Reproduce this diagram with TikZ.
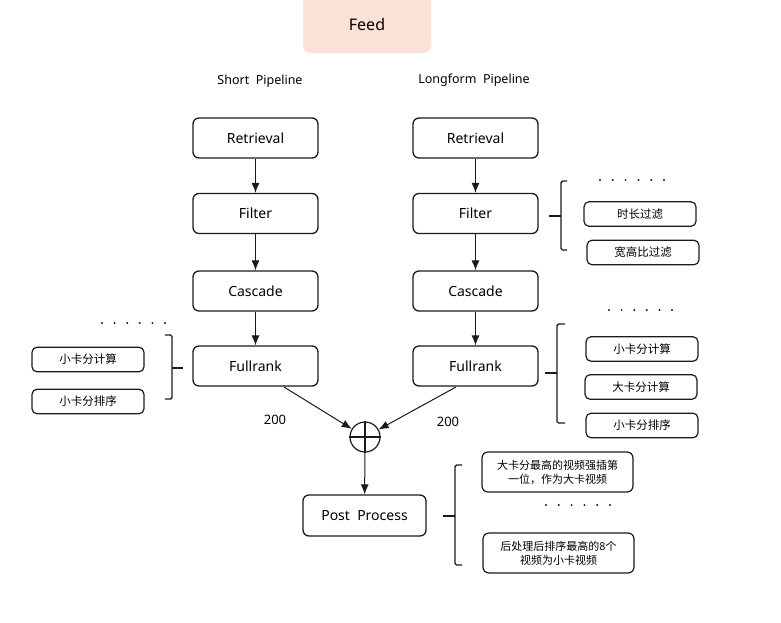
\documentclass[tikz,border=0pt]{standalone}
\usepackage{fontspec}
\setmainfont{Noto Sans}
\newfontfamily\cjk{Noto Sans CJK SC}
\usetikzlibrary{arrows.meta}
\definecolor{feedfill}{HTML}{FAE2D6}
\definecolor{ink}{HTML}{1A1A1A}
\tikzset{
  stage/.style={draw=ink, line width=1.3pt, rounded corners=6pt, minimum width=125pt, minimum height=40pt, inner sep=0pt, font=\fontsize{14}{16}\selectfont},
  subbox/.style={draw=ink, line width=1.2pt, rounded corners=5pt, minimum width=112pt, minimum height=24.5pt, inner sep=0pt, font=\cjk\fontsize{11.5}{13}\selectfont},
  bigbox/.style={draw=ink, line width=1.2pt, rounded corners=6pt, minimum width=151pt, minimum height=40pt, inner sep=0pt, align=center, font=\cjk\fontsize{11}{14}\selectfont},
  flow/.style={line width=1pt, draw=ink, -{Latex[length=10pt,width=8pt]}},
  brace/.style={line width=1.4pt, draw=ink, rounded corners=1.5pt},
  dot/.style={fill=ink},
  hdr/.style={font=\fontsize{12.5}{14}\selectfont},
}
\begin{document}
\begin{tikzpicture}[x=1pt,y=-1pt]
\useasboundingbox (0,0) rectangle (781,622);
% Feed
\fill[feedfill, rounded corners=8pt] (303,-10) rectangle (431,53);
\node[font=\fontsize{16}{18}\selectfont] (feed) at (367,24) {Feed};
% headers
\node[hdr] (hs) at (260,81) {Short\ \ Pipeline};
\node[hdr] (hl) at (474,80) {Longform\ \ Pipeline};
% left column
\node[stage] (r1) at (255.5,138) {Retrieval};
\node[stage] (f1) at (255.5,213.5) {Filter};
\node[stage] (c1) at (255.5,291) {Cascade};
\node[stage] (k1) at (255.5,366) {Fullrank};
% right column
\node[stage] (r2) at (475.5,138) {Retrieval};
\node[stage] (f2) at (475.5,213.5) {Filter};
\node[stage] (c2) at (475.5,291) {Cascade};
\node[stage] (k2) at (475.5,366) {Fullrank};
\draw[flow] (r1) -- (f1);
\draw[flow] (f1) -- (c1);
\draw[flow] (c1) -- (k1);
\draw[flow] (r2) -- (f2);
\draw[flow] (f2) -- (c2);
\draw[flow] (c2) -- (k2);
% oplus
\node[circle, draw=ink, line width=1.2pt, minimum size=30pt, inner sep=0pt] (sum) at (365,437) {};
\draw[line width=1.2pt, draw=ink] (sum.north) -- (sum.south) (sum.west) -- (sum.east);
\coordinate (k1o) at (284,387);
\coordinate (k2o) at (456,387);
\draw[flow] (k1o) -- (sum);
\draw[flow] (k2o) -- (sum);
\node[font=\fontsize{13}{15}\selectfont] (n1) at (275,420) {200};
\node[font=\fontsize{13}{15}\selectfont] (n2) at (448,422) {200};
% post process
\node[stage, minimum width=123pt, minimum height=41pt] (pp) at (364.5,515.5) {Post\ \ Process};
\draw[flow] (sum) -- (pp);
% left fullrank brace
\draw[brace] (165,335) -- (172,335) -- (172,399) -- (165,399);
\draw[brace] (172,368) -- (183,368);
\foreach \i in {0,...,5} \fill[dot] (102+12.6*\i,323) circle (1.1pt);
\node[subbox] (l1) at (88,359.5) {小卡分计算};
\node[subbox] (l2) at (88,401.5) {小卡分排序};
% right filter brace
\draw[brace] (567,181) -- (561,181) -- (561,250) -- (567,250);
\draw[brace] (549,216) -- (561,216);
\foreach \i in {0,...,5} \fill[dot] (600+12.8*\i,180) circle (1.1pt);
\node[subbox] (fs1) at (640,214) {时长过滤};
\node[subbox] (fs2) at (643,252.5) {宽高比过滤};
% right fullrank brace
\draw[brace] (565,324) -- (557,324) -- (557,423) -- (565,423);
\draw[brace] (545,373) -- (557,373);
\foreach \i in {0,...,5} \fill[dot] (609+12.6*\i,310) circle (1.1pt);
\node[subbox] (ks1) at (642,349) {小卡分计算};
\node[subbox] (ks2) at (641,387) {大卡分计算};
\node[subbox] (ks3) at (642,425.5) {小卡分排序};
% post brace
\draw[brace] (462,465) -- (455,465) -- (455,565) -- (462,565);
\draw[brace] (443,516) -- (455,516);
\node[bigbox] (pb1) at (557.5,472) {大卡分最高的视频强插第\\一位，作为大卡视频};
\foreach \i in {0,...,5} \fill[dot] (546+12.8*\i,505) circle (1.1pt);
\node[bigbox] (pb2) at (558.5,553) {后处理后排序最高的8个\\视频为小卡视频};
\end{tikzpicture}
\end{document}
